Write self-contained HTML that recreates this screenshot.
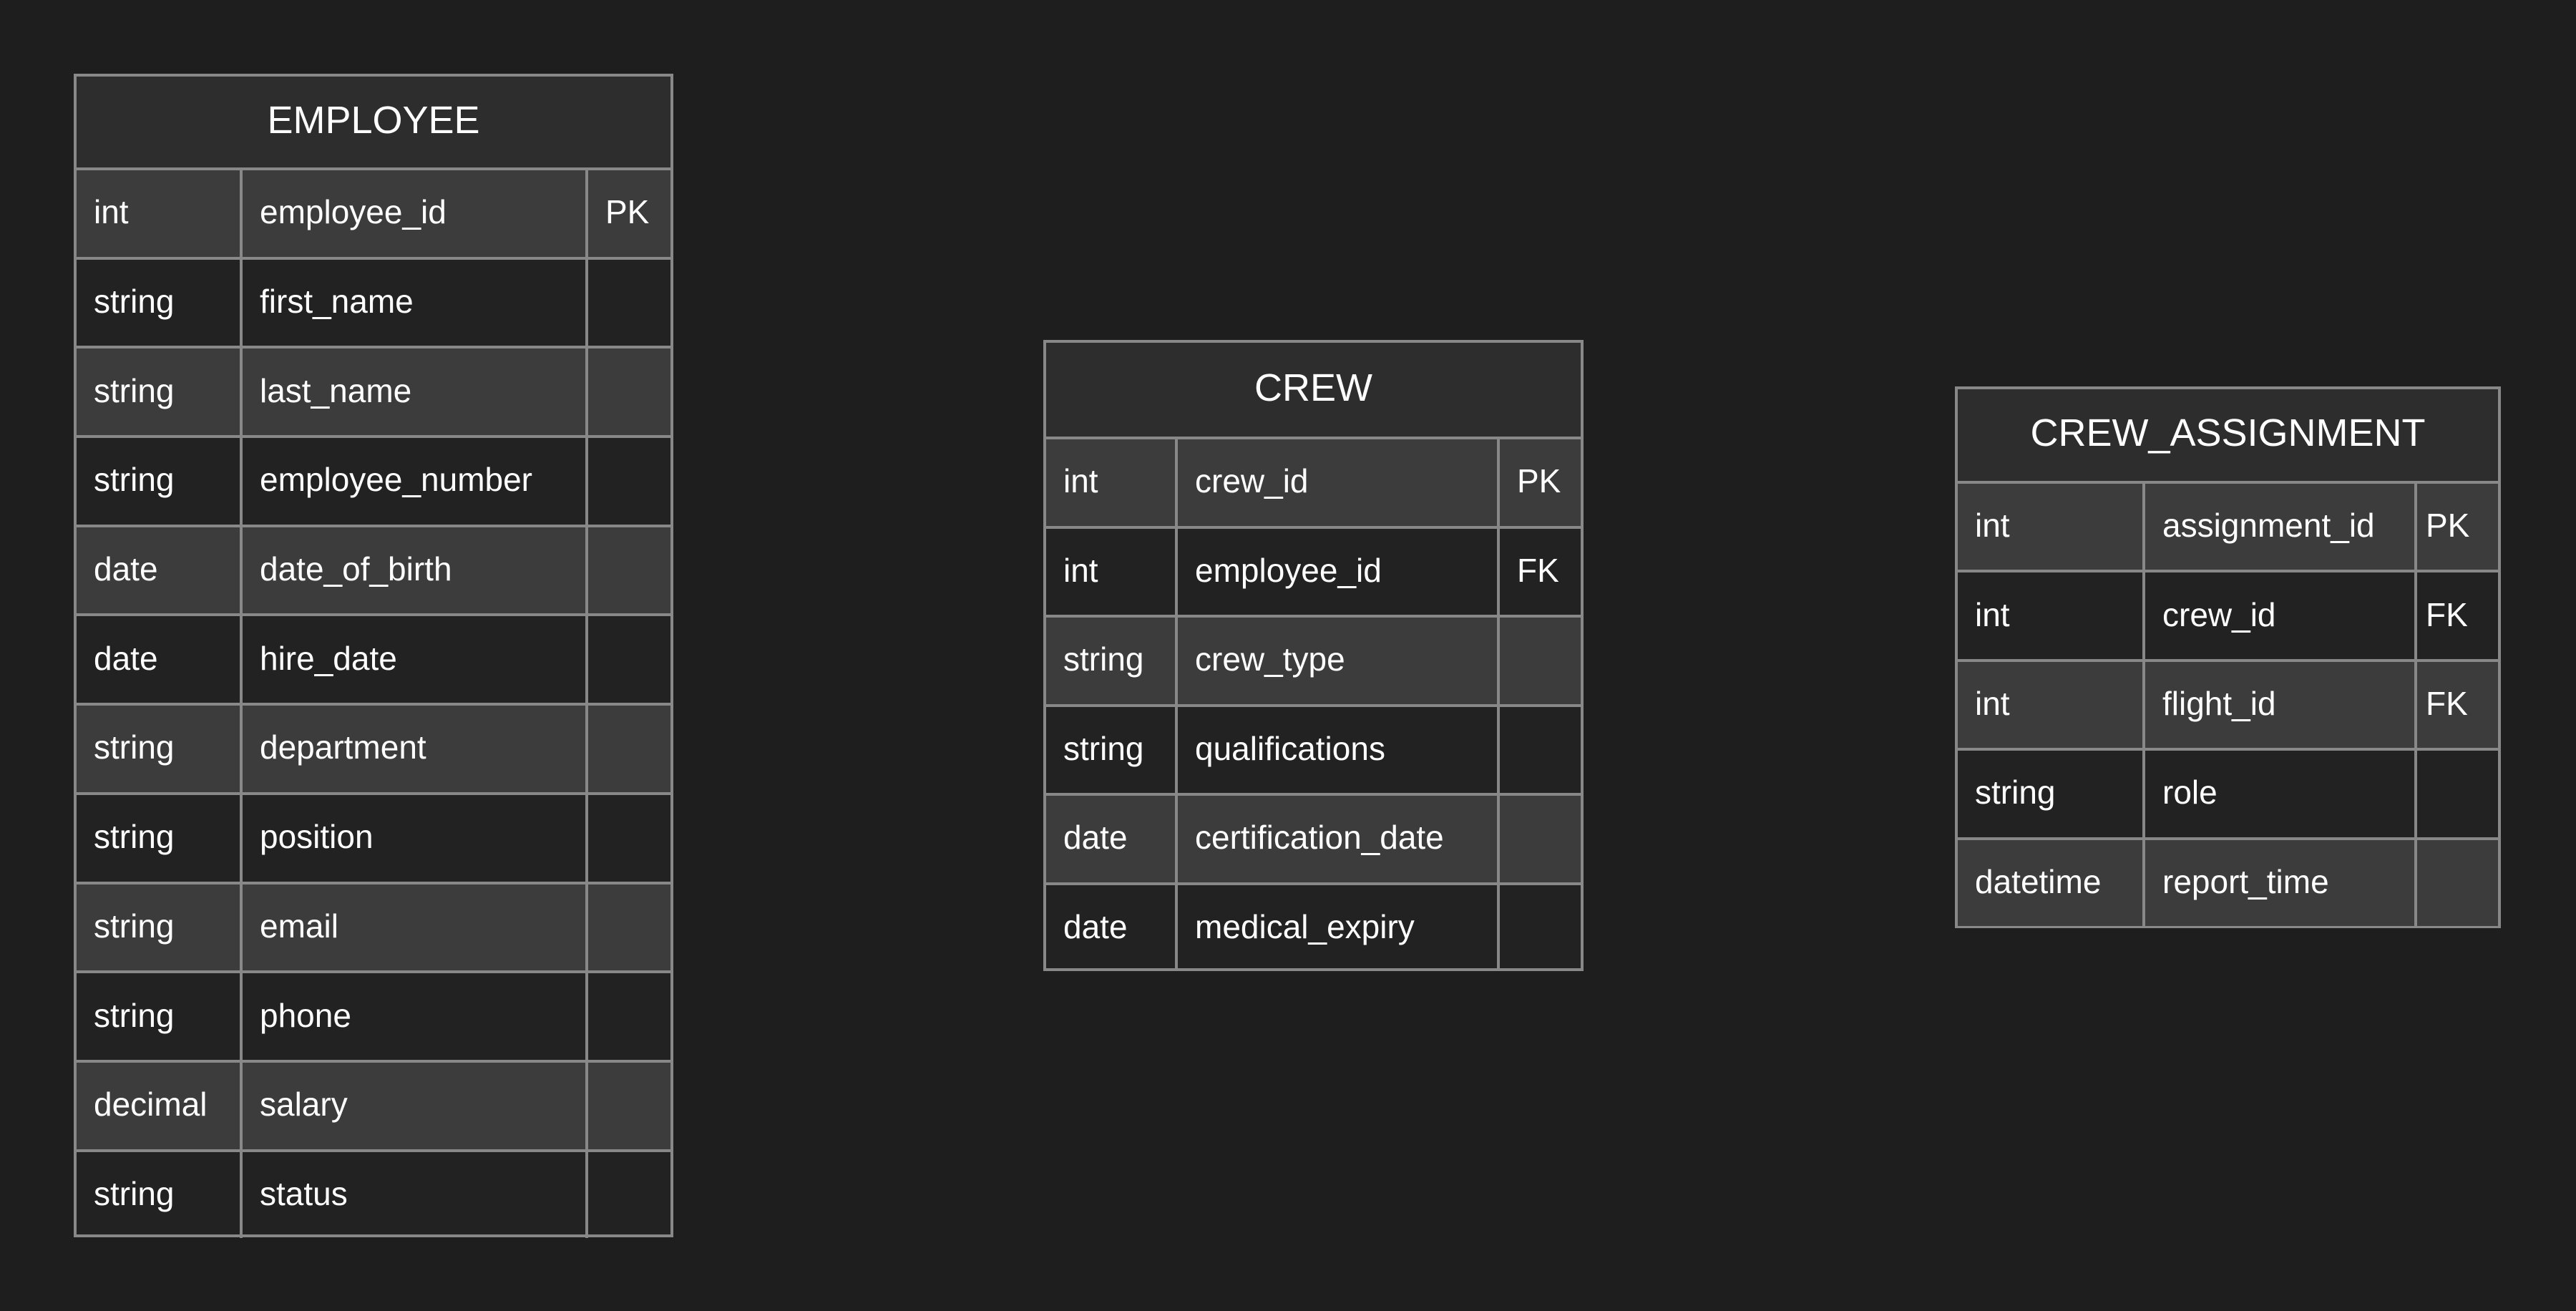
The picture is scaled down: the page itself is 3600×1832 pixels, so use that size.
<!DOCTYPE html>
<html><head><meta charset="utf-8"><style>
html,body{margin:0;padding:0;background:#1e1e1e;width:3600px;height:1832px;overflow:hidden;font-family:"Liberation Sans",sans-serif;color:#fff}
.t{position:absolute;border:4px solid #888;box-sizing:border-box;background:#222}
.h{background:#2d2d2d;text-align:center;box-sizing:border-box;display:flex;align-items:center;justify-content:center;font-size:54px;padding-bottom:6px}
.r{display:flex;border-top:4px solid #888;box-sizing:border-box;font-size:46px}
.r.o{background:#3c3c3c}
.c{box-sizing:border-box;padding-left:24px;padding-bottom:4px;display:flex;align-items:center;white-space:nowrap}
.c+.c{border-left:4px solid #888}
</style></head><body>

<div class="t" style="left:103px;top:103px;width:838px;height:1626px">
<div class="h" style="height:127px">EMPLOYEE</div>
<div class="r o" style="height:124.7px"><div class="c" style="width:228px">int</div><div class="c" style="width:483px">employee_id</div><div class="c" style="flex:1">PK</div></div>
<div class="r" style="height:124.7px"><div class="c" style="width:228px">string</div><div class="c" style="width:483px">first_name</div><div class="c" style="flex:1"></div></div>
<div class="r o" style="height:124.7px"><div class="c" style="width:228px">string</div><div class="c" style="width:483px">last_name</div><div class="c" style="flex:1"></div></div>
<div class="r" style="height:124.7px"><div class="c" style="width:228px">string</div><div class="c" style="width:483px">employee_number</div><div class="c" style="flex:1"></div></div>
<div class="r o" style="height:124.7px"><div class="c" style="width:228px">date</div><div class="c" style="width:483px">date_of_birth</div><div class="c" style="flex:1"></div></div>
<div class="r" style="height:124.7px"><div class="c" style="width:228px">date</div><div class="c" style="width:483px">hire_date</div><div class="c" style="flex:1"></div></div>
<div class="r o" style="height:124.7px"><div class="c" style="width:228px">string</div><div class="c" style="width:483px">department</div><div class="c" style="flex:1"></div></div>
<div class="r" style="height:124.7px"><div class="c" style="width:228px">string</div><div class="c" style="width:483px">position</div><div class="c" style="flex:1"></div></div>
<div class="r o" style="height:124.7px"><div class="c" style="width:228px">string</div><div class="c" style="width:483px">email</div><div class="c" style="flex:1"></div></div>
<div class="r" style="height:124.7px"><div class="c" style="width:228px">string</div><div class="c" style="width:483px">phone</div><div class="c" style="flex:1"></div></div>
<div class="r o" style="height:124.7px"><div class="c" style="width:228px">decimal</div><div class="c" style="width:483px">salary</div><div class="c" style="flex:1"></div></div>
<div class="r" style="height:124.7px"><div class="c" style="width:228px">string</div><div class="c" style="width:483px">status</div><div class="c" style="flex:1"></div></div>
</div>

<div class="t" style="left:1458px;top:475px;width:755px;height:882px">
<div class="h" style="height:131px">CREW</div>
<div class="r o" style="height:124.5px"><div class="c" style="width:180px">int</div><div class="c" style="width:450px">crew_id</div><div class="c" style="flex:1">PK</div></div>
<div class="r" style="height:124.5px"><div class="c" style="width:180px">int</div><div class="c" style="width:450px">employee_id</div><div class="c" style="flex:1">FK</div></div>
<div class="r o" style="height:124.5px"><div class="c" style="width:180px">string</div><div class="c" style="width:450px">crew_type</div><div class="c" style="flex:1"></div></div>
<div class="r" style="height:124.5px"><div class="c" style="width:180px">string</div><div class="c" style="width:450px">qualifications</div><div class="c" style="flex:1"></div></div>
<div class="r o" style="height:124.5px"><div class="c" style="width:180px">date</div><div class="c" style="width:450px">certification_date</div><div class="c" style="flex:1"></div></div>
<div class="r" style="height:124.5px"><div class="c" style="width:180px">date</div><div class="c" style="width:450px">medical_expiry</div><div class="c" style="flex:1"></div></div>
</div>

<div class="t" style="left:2732px;top:540px;width:763px;height:757px">
<div class="h" style="height:128px">CREW_ASSIGNMENT</div>
<div class="r o" style="height:124.4px"><div class="c" style="width:258px">int</div><div class="c" style="width:380px">assignment_id</div><div class="c" style="flex:1;padding-left:12px">PK</div></div>
<div class="r" style="height:124.4px"><div class="c" style="width:258px">int</div><div class="c" style="width:380px">crew_id</div><div class="c" style="flex:1;padding-left:12px">FK</div></div>
<div class="r o" style="height:124.4px"><div class="c" style="width:258px">int</div><div class="c" style="width:380px">flight_id</div><div class="c" style="flex:1;padding-left:12px">FK</div></div>
<div class="r" style="height:124.4px"><div class="c" style="width:258px">string</div><div class="c" style="width:380px">role</div><div class="c" style="flex:1"></div></div>
<div class="r o" style="height:124.4px"><div class="c" style="width:258px">datetime</div><div class="c" style="width:380px">report_time</div><div class="c" style="flex:1"></div></div>
</div>

</body></html>
